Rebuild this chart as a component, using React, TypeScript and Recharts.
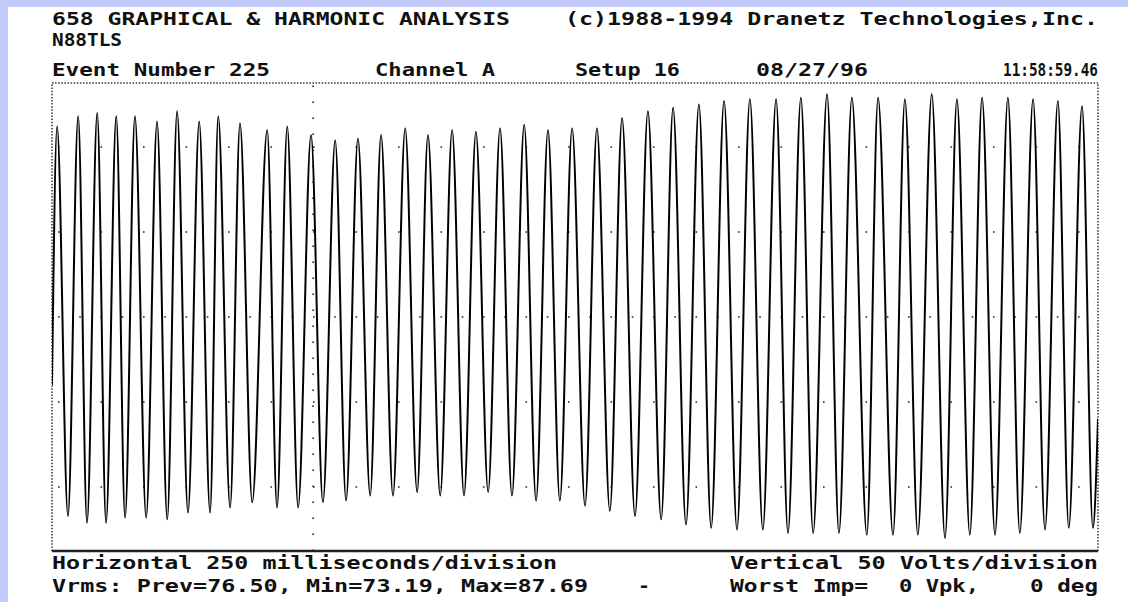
import React from 'react';
import { LineChart, Line, XAxis, YAxis, ReferenceLine } from 'recharts';

// Time (ms, relative to trigger) and voltage (V) of each waveform crest
const peakTimes = [-753, -691, -635, -579, -524, -459, -400, -335, -279, -215, -135, -76, -6, 65,
  132, 200, 271, 338, 409, 479, 550, 621, 691, 762, 835, 909, 985, 1059, 1135, 1209, 1285, 1362, 1435,
  1512, 1585, 1662, 1741, 1820, 1894, 1968, 2044, 2118, 2191, 2262];
const peakVolts = [112, 118, 120, 118, 118, 115, 121, 115, 118, 114, 110, 112, 107, 104,
  105, 107, 111, 107, 110, 109, 111, 113, 110, 111, 111, 117, 121, 123, 125, 127, 128, 128, 129,
  131, 129, 129, 128, 131, 128, 129, 129, 128, 127, 124];
// Time and voltage of each trough
const troughTimes = [-721, -665, -609, -553, -491, -429, -368, -303, -244, -179, -106, -44, 29, 97,
  168, 235, 306, 374, 444, 515, 585, 656, 726, 800, 873, 947, 1024, 1097, 1171, 1247, 1323, 1397, 1471,
  1547, 1629, 1706, 1779, 1859, 1932, 2006, 2079, 2153, 2223, 2294];
const troughVolts = [-117, -121, -121, -118, -118, -119, -115, -115, -112, -109, -112, -112, -109, -108,
  -105, -105, -103, -105, -105, -103, -105, -108, -108, -111, -114, -117, -119, -122, -124, -125, -125, -127, -127,
  -127, -128, -128, -128, -130, -128, -128, -127, -125, -124, -124];
// Waveform value at the left and right edges of the record
const edgeTimes = [-768, 2309];
const edgeVolts = [-40, -60];

const gridVolts = [100, 50, -50, -100];
const X_MIN = -768;
const X_MAX = 2309;
const Y_LIM = 137.6;

const headerLine1Left = '658 GRAPHICAL & HARMONIC ANALYSIS';
const headerLine1Right = '(c)1988-1994 Dranetz Technologies,Inc.';
const headerLine2 = 'N88TLS';
const eventText = 'Event Number 225';
const channelText = 'Channel A';
const setupText = 'Setup 16';
const dateText = '08/27/96';
const timeText = '11:58:59.46';
const horizText = 'Horizontal 250 milliseconds/division';
const vertText = 'Vertical 50 Volts/division';
const vrmsText = 'Vrms: Prev=76.50, Min=73.19, Max=87.69';
const dashText = '-';
const worstText = 'Worst Imp=';
const vpkText = '0 Vpk,';
const degText = '0 deg';

type Pt = { t: number; v: number };

const points: Pt[] = [];
edgeTimes.forEach((t, i) => points.push({ t, v: edgeVolts[i] }));
peakTimes.forEach((t, i) => points.push({ t, v: peakVolts[i] }));
troughTimes.forEach((t, i) => points.push({ t, v: troughVolts[i] }));
points.sort((a, b) => a.t - b.t);

const FONT = '"DejaVu Sans Mono", "Liberation Mono", monospace';

const T = ({ x, y, w, children }: { x: number; y: number; w: number; children: string }) => (
  <text x={x} y={y} textLength={w} lengthAdjust="spacingAndGlyphs" fontFamily={FONT}
    fontWeight="bold" fontSize={17.5} fill="#111">{children}</text>
);

export default function App() {
  return (
    <div style={{ position: 'fixed', left: 0, top: 0, width: 1128, height: 602, background: '#c3cbfb', overflow: 'hidden' }}>
      <div style={{ position: 'absolute', left: 8, top: 7, right: 0, bottom: 0, background: '#ffffff' }} />
      <div style={{ position: 'absolute', left: 0, top: 0 }}>
        <LineChart width={1128} height={602} data={points} margin={{ top: 83, right: 30, bottom: 51, left: 52 }}>
          <XAxis type="number" dataKey="t" domain={[X_MIN, X_MAX]} hide allowDataOverflow />
          <YAxis type="number" dataKey="v" domain={[-Y_LIM, Y_LIM]} hide allowDataOverflow />
          {gridVolts.map((g) => (
            <ReferenceLine key={g} y={g} stroke="#222" strokeWidth={1.6} strokeDasharray="1.6 40.9" strokeDashoffset={-6} />
          ))}
          <ReferenceLine y={0} stroke="#222" strokeWidth={1.6} strokeDasharray="1.6 19.65" strokeDashoffset={-6} />
          <ReferenceLine x={0} stroke="#222" strokeWidth={1.6} strokeDasharray="1.6 14.4" />
          <ReferenceLine y={Y_LIM} stroke="#333" strokeWidth={1.5} strokeDasharray="1.5 1.6" />
          <ReferenceLine x={X_MIN} stroke="#333" strokeWidth={1.5} strokeDasharray="1.5 1.6" />
          <ReferenceLine x={X_MAX} stroke="#333" strokeWidth={1.5} strokeDasharray="1.5 1.6" />
          <ReferenceLine y={-Y_LIM} stroke="#222" strokeWidth={2.5} />
          <Line dataKey="v" type="monotone" stroke="#000" strokeWidth={2}
            dot={false} activeDot={false} isAnimationActive={false} />
        </LineChart>
      </div>
      <svg width={1128} height={602} style={{ position: 'absolute', left: 0, top: 0 }}>
        <T x={52} y={25} w={458}>{headerLine1Left}</T>
        <T x={565} y={25} w={533}>{headerLine1Right}</T>
        <T x={52} y={46} w={70}>{headerLine2}</T>
        <T x={52} y={76} w={218}>{eventText}</T>
        <T x={375} y={76} w={120}>{channelText}</T>
        <T x={575} y={76} w={105}>{setupText}</T>
        <T x={756} y={76} w={112}>{dateText}</T>
        <T x={1003} y={76} w={95}>{timeText}</T>
        <T x={52} y={569} w={505}>{horizText}</T>
        <T x={730} y={569} w={368}>{vertText}</T>
        <T x={52} y={592} w={536}>{vrmsText}</T>
        <T x={638} y={592} w={12}>{dashText}</T>
        <T x={730} y={592} w={138}>{worstText}</T>
        <T x={899} y={592} w={80}>{vpkText}</T>
        <T x={1030} y={592} w={68}>{degText}</T>
      </svg>
    </div>
  );
}
